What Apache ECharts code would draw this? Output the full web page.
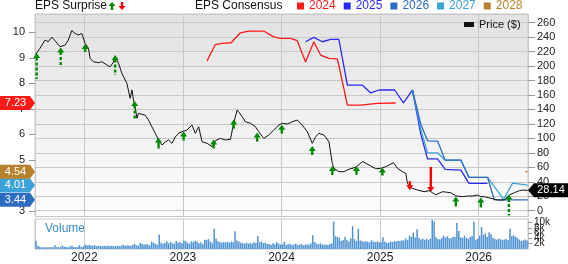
<!DOCTYPE html>
<html><head><meta charset="utf-8">
<script src="https://cdn.jsdelivr.net/npm/echarts@6/dist/echarts.min.js"></script>
<style>html,body{margin:0;padding:0;background:#fff}#c{width:568px;height:264px}</style>
</head><body><div id="c"></div>
<script>
// ---------- data ----------
const yearLabels = [2022, 2023, 2024, 2025, 2026];
const xStart = 2021.5, xEnd = 2026.5;

const priceDates = [2021.505,2021.517,2021.551,2021.602,2021.635,2021.670,2021.703,2021.754,2021.774,2021.805,2021.838,2021.873,2021.907,2021.940,2021.975,2022.008,2022.042,2022.059,2022.092,2022.143,2022.178,2022.229,2022.262,2022.293,2022.313,2022.347,2022.381,2022.432,2022.465,2022.483,2022.499,2022.516,2022.534,2022.550,2022.567,2022.618,2022.651,2022.669,2022.702,2022.720,2022.753,2022.788,2022.821,2022.855,2022.889,2022.923,2022.956,2022.991,2023.007,2023.042,2023.092,2023.126,2023.160,2023.194,2023.245,2023.296,2023.312,2023.329,2023.380,2023.431,2023.482,2023.515,2023.550,2023.566,2023.601,2023.634,2023.685,2023.736,2023.769,2023.820,2023.871,2023.922,2023.973,2024.007,2024.058,2024.109,2024.160,2024.210,2024.261,2024.312,2024.346,2024.379,2024.430,2024.481,2024.515,2024.532,2024.582,2024.633,2024.684,2024.752,2024.823,2024.904,2024.955,2025.006,2025.057,2025.135,2025.176,2025.227,2025.260,2025.277,2025.301,2025.328,2025.379,2025.446,2025.497,2025.514,2025.565,2025.633,2025.717,2025.768,2025.836,2025.887,2025.938,2025.989,2026.022,2026.056,2026.124,2026.192,2026.259,2026.310,2026.361,2026.412,2026.446,2026.497];
const priceValues = [216,217.7,224.6,236,233.7,240,235,226.8,228,229,236,249,245,243,245,231.5,224.6,210.8,206,204.7,206,201.5,199,205,213,204,190,176,155.4,167,153,143.8,127.8,134.7,137,132,125.4,123,111.6,107,97.8,90.9,95,97.8,93.2,102,107,109.3,110,111.6,118.5,107,116,95.4,93.2,88.5,92,96.8,100,97.8,98.7,120.9,139.3,141.6,130,123,120.9,116,109.3,100,104.7,111.6,118.5,120.9,119.9,123,125.4,118.5,109.3,93.2,102.3,107,104.7,95.4,65.6,58.6,54,54,57.3,60,68,62,58,58.6,60.8,66.4,58.6,54,51.7,37.9,33,31,28.6,26.3,27.7,28.6,22,26.3,24.9,20.5,19.4,20.3,20.3,21.7,19.4,19.4,17.1,14.8,14.8,21.7,24.9,27.7,28.6,28.14];

const eps2024Dates = [2023.245,2023.329,2023.397,2023.489,2023.583,2023.668,2023.820,2023.916,2023.990,2024.091,2024.160,2024.244,2024.328,2024.396,2024.481,2024.566,2024.582,2024.668,2024.803,2024.973,2025.159];
const eps2024 = [8.88,9.52,9.57,9.59,9.98,10.05,10.05,9.83,9.76,9.76,9.67,8.84,9.63,9.11,8.98,8.96,8.7,7.15,7.15,7.22,7.23];

const eps2025Dates = [2024.244,2024.328,2024.414,2024.498,2024.582,2024.668,2024.820,2024.904,2024.989,2025.148,2025.237,2025.328,2025.413,2025.481,2025.583,2025.660,2025.820,2025.901,2026.090];
const eps2025 = [9.63,9.80,9.63,9.72,9.72,7.93,7.93,7.63,7.74,7.74,7.24,7.74,6.0,5.04,5.04,4.63,4.60,4.08,4.08];

const eps2026Dates = [2025.328,2025.413,2025.481,2025.583,2025.660,2025.820,2025.901,2026.090,2026.158,2026.497];
const eps2026 = [7.74,6.4,5.75,5.74,4.99,4.99,4.32,4.32,3.44,3.44];

const eps2027Dates = [2025.328,2025.413,2025.481,2025.583,2025.660,2025.820,2025.901,2026.090,2026.253,2026.344,2026.497];
const eps2027 = [7.74,6.2,5.28,5.28,4.99,4.99,4.32,4.32,3.46,4.09,4.01];

const eps2028Dates = [2026.470,2026.497];
const eps2028 = [4.54,4.54];

// EPS surprise events: date, price at report, surprise size (%), beat(1)/miss(-1)
const surpriseDates = [2021.517,2021.761,2022.008,2022.313,2022.511,2022.753,2023.007,2023.312,2023.515,2023.753,2024.003,2024.312,2024.515,2024.760,2025.023,2025.301,2025.514,2025.768,2026.022,2026.306];
const surprisePrices = [218,225.7,230.5,215.3,151.7,101.2,109.5,98.5,126,108,119,89.5,61.8,62,59.7,28.4,25.9,19.6,18.3,22.4];
const surprisePct = [13,9.5,4,10,9.5,5.5,4.5,4.5,4.5,4.5,4.5,4.5,4.5,4.5,4,4.5,12.5,5,5,10.5];
const surpriseSign = [1,1,1,1,1,1,1,1,1,1,1,1,1,1,1,-1,-1,1,1,1];

// weekly volume (thousands)
const vol2021 = [3.0,1.2,0.8,0.7,0.6,0.7,0.6,0.7,0.8,0.7,1.4,0.8,0.7,0.8,1.3,0.9,0.8,0.7,1.0,1.2,0.8,0.7,0.8,1.5,0.8,0.9];
const vol2022 = [1.6,1.4,1.5,1.3,1.2,1.4,1.1,1.3,1.2,1.0,1.2,1.1,1.3,1.0,1.2,1.1,1.0,1.3,1.1,1.2,1.6,1.2,1.4,1.3,1.2,1.5,1.9,1.4,1.3,2.3,2.0,1.6,1.9,1.7,1.4,2.8,2.3,2.0,1.6,5.5,2.4,2.0,2.3,2.9,2.1,2.6,2.2,2.0,3.0,2.4,2.6,2.2];
const vol2023 = [3.2,2.9,2.4,2.0,2.9,2.6,3.1,2.7,2.2,2.5,1.9,3.5,3.4,3.7,2.8,2.2,7.6,4.0,2.9,2.5,2.4,2.6,2.5,2.7,2.4,2.8,2.6,6.7,3.2,2.8,2.4,2.2,2.0,2.4,2.1,2.2,2.0,2.5,2.3,4.9,2.5,2.8,2.2,2.4,1.9,2.0,1.6,2.2,1.8,2.6,2.0,1.7];
const vol2024 = [1.8,2.7,1.6,1.8,2.0,1.5,1.7,2.0,1.5,1.6,1.9,1.4,1.6,1.8,1.6,2.2,5.2,2.6,2.0,1.8,2.1,1.7,1.6,1.7,1.5,1.9,2.0,10.3,4.8,4.5,4.2,3.0,3.4,4.6,3.5,2.8,4.0,8.6,3.7,3.0,7.6,3.2,3.0,2.6,2.9,2.7,2.5,3.3,2.8,2.6,2.9,2.5];
const vol2025 = [2.6,4.4,2.8,2.3,2.4,2.8,2.6,3.0,2.8,3.1,3.0,3.3,3.2,4.0,3.4,5.0,4.5,6.2,4.3,7.4,4.1,3.6,3.9,3.4,3.8,3.3,3.9,11.0,10.3,4.4,3.8,3.6,4.2,5.0,4.3,4.8,4.1,4.0,4.6,4.5,9.8,6.8,4.4,4.1,5.0,4.2,3.8,4.5,4.9,10.3,3.5,3.9];
const vol2026 = [5.0,8.3,5.4,5.8,4.5,6.3,5.6,4.2,3.8,3.5,3.9,3.7,3.4,3.6,3.8,3.4,7.6,4.9,5.2,4.6,4.1,3.5,3.0,3.3,3.6,3.2];

const lastPrice = 28.14;

// ---------- build ----------
const zip = (a, b) => a.map((d, i) => [d, b[i]]);
const volData = [];
[[2021.5, vol2021], [2022, vol2022], [2023, vol2023], [2024, vol2024], [2025, vol2025], [2026, vol2026]].forEach(([y0, arr]) => {
  arr.forEach((v, i) => volData.push([y0 + (i + 0.5) / 52, v]));
});
const surpriseData = surpriseDates.map((d, i) => [d, surprisePrices[i], surprisePct[i], surpriseSign[i]]);

const FONT = 'Liberation Sans, Arial, sans-serif';
const C = { c2024: '#ff1a1a', c2025: '#2a2af2', c2026: '#2e6cc2', c2027: '#3ba2da', c2028: '#b7822f' };

function leftBadge(color, value) {
  return {
    silent: true,
    symbol: 'path://M0,0L30,0L35,7L30,14L0,14Z',
    symbolSize: [35, 14],
    symbolOffset: [-17.5, 0],
    itemStyle: { color },
    label: { show: true, position: 'inside', color: '#fff', fontSize: 11, fontFamily: FONT, offset: [-2, 0], formatter: () => value.toFixed(2) },
    data: [{ coord: [xStart, value] }]
  };
}

function epsSeries(name, dates, vals, color, badge) {
  return {
    name, type: 'line', xAxisIndex: 0, yAxisIndex: 0, data: zip(dates, vals),
    showSymbol: false, symbol: 'none', lineStyle: { color, width: 1.3 }, itemStyle: { color },
    animation: false, z: 3,
    markPoint: badge ? leftBadge(color, vals[vals.length - 1]) : undefined
  };
}

const chart = echarts.init(document.getElementById('c'), null, { renderer: 'canvas' });
const axisLabelStyle = { fontFamily: FONT, color: '#222' };

chart.setOption({
  animation: false,
  textStyle: { fontFamily: FONT },
  grid: [
    { left: 35, right: 40, top: 14, height: 202.5, show: true, borderColor: '#c8c8c8', borderWidth: 1,
      backgroundColor: { type: 'linear', x: 0, y: 0, x2: 0, y2: 1, colorStops: [{ offset: 0, color: '#e2e2e2' }, { offset: 1, color: '#fdfdfd' }] } },
    { left: 35, right: 40, top: 219, height: 39, show: true, borderColor: '#c8c8c8', borderWidth: 1, backgroundColor: '#ffffff' }
  ],
  legend: [
    { left: 297, top: 0, padding: 0, itemWidth: 7, itemHeight: 7, itemGap: 8, icon: 'rect',
      textStyle: { fontSize: 12, fontFamily: FONT },
      data: [
        { name: '2024', textStyle: { color: C.c2024 } },
        { name: '2025', textStyle: { color: C.c2025 } },
        { name: '2026', textStyle: { color: C.c2026 } },
        { name: '2027', textStyle: { color: C.c2027 } },
        { name: '2028', textStyle: { color: C.c2028 } }
      ], selectedMode: false },
    { left: 464, top: 19, padding: 0, itemWidth: 10, itemHeight: 5, icon: 'rect',
      textStyle: { fontSize: 11, fontFamily: FONT, color: '#111' }, data: ['Price ($)'], selectedMode: false }
  ],
  graphic: [
    { type: 'text', left: 35, top: 0, style: { text: 'EPS Surprise', fontSize: 12, fontFamily: FONT, fill: '#111' } },
    { type: 'polygon', shape: { points: [[112, 2], [108.5, 6], [115.5, 6]] }, style: { fill: '#008a00' } },
    { type: 'rect', shape: { x: 110.8, y: 6, width: 2.4, height: 4 }, style: { fill: '#008a00' } },
    { type: 'polygon', shape: { points: [[122, 10], [118.5, 6], [125.5, 6]] }, style: { fill: '#ff0000' } },
    { type: 'rect', shape: { x: 120.8, y: 2, width: 2.4, height: 4 }, style: { fill: '#ff0000' } },
    { type: 'text', left: 195, top: 0, style: { text: 'EPS Consensus', fontSize: 12, fontFamily: FONT, fill: '#111' } },
    { type: 'text', left: 45, top: 223, style: { text: 'Volume', fontSize: 12, fontFamily: FONT, fill: '#3a8bd0' } }
  ],
  xAxis: [
    { type: 'value', gridIndex: 0, min: xStart, max: xEnd, minInterval: 1, maxInterval: 1,
      axisLabel: { show: false }, axisTick: { show: false }, axisLine: { show: false },
      splitLine: { show: true, lineStyle: { color: '#c8c8c8', width: 1 } } },
    { type: 'value', gridIndex: 1, min: xStart, max: xEnd, minInterval: 1, maxInterval: 1,
      axisLabel: { show: true, fontSize: 12, margin: 3, showMinLabel: false, showMaxLabel: false, ...axisLabelStyle,
        formatter: v => (yearLabels.includes(Math.round(v)) ? String(Math.round(v)) : '') },
      axisTick: { show: false }, axisLine: { show: false },
      splitLine: { show: true, lineStyle: { color: '#c8c8c8', width: 1 } } }
  ],
  yAxis: [
    { type: 'value', gridIndex: 0, position: 'left', min: 2.785, max: 10.717, minInterval: 1, maxInterval: 1,
      axisLine: { show: true, lineStyle: { color: '#c8c8c8' } },
      axisTick: { show: true, length: 6, lineStyle: { color: '#999' } },
      axisLabel: { fontSize: 11, margin: 10, showMinLabel: false, showMaxLabel: false, hideOverlap: false, ...axisLabelStyle },
      splitLine: { show: false } },
    { type: 'value', gridIndex: 0, position: 'right', min: -8, max: 272, minInterval: 20, maxInterval: 20,
      axisLine: { show: false },
      axisTick: { show: true, length: 7, lineStyle: { color: '#999' } },
      axisLabel: { fontSize: 11, margin: 9, showMinLabel: false, showMaxLabel: false, hideOverlap: false, ...axisLabelStyle },
      splitLine: { show: true, lineStyle: { color: '#c8c8c8', width: 1 } } },
    { type: 'value', gridIndex: 1, position: 'right', min: 0, max: 11.3, minInterval: 2, maxInterval: 2,
      axisLine: { show: false },
      axisTick: { show: true, length: 4, lineStyle: { color: '#999' } },
      axisLabel: { fontSize: 10, margin: 6, showMaxLabel: false, hideOverlap: false, ...axisLabelStyle, formatter: v => (v === 0 ? '0' : v + 'k') },
      splitLine: { show: false } }
  ],
  series: [
    epsSeries('2024', eps2024Dates, eps2024, C.c2024, true),
    epsSeries('2025', eps2025Dates, eps2025, C.c2025, false),
    epsSeries('2027', eps2027Dates, eps2027, C.c2027, true),
    epsSeries('2026', eps2026Dates, eps2026, C.c2026, true),
    epsSeries('2028', eps2028Dates, eps2028, C.c2028, true),
    { name: 'Price ($)', type: 'line', xAxisIndex: 0, yAxisIndex: 1, data: zip(priceDates, priceValues),
      showSymbol: false, symbol: 'none', lineStyle: { color: '#111', width: 1 }, itemStyle: { color: '#111' }, z: 4,
      markPoint: {
        silent: true, symbol: 'path://M6,0L40,0L40,14L6,14L0,7Z', symbolSize: [40, 14], symbolOffset: [20, 0],
        itemStyle: { color: '#000' },
        label: { show: true, position: 'inside', color: '#fff', fontSize: 11, fontFamily: FONT, offset: [3, 0], formatter: () => lastPrice.toFixed(2) },
        data: [{ coord: [xEnd, lastPrice] }]
      } },
    { name: 'Surprise', type: 'custom', xAxisIndex: 0, yAxisIndex: 1, data: surpriseData, z: 5,
      renderItem: (params, api) => {
        const p = api.coord([api.value(0), api.value(1)]);
        const len = 2 * api.value(2);
        const up = api.value(3) > 0;
        const color = up ? '#008a00' : '#ff0000';
        const hw = 3.5, hh = 5;
        const s = up ? 1 : -1;
        return { type: 'group', children: [
          { type: 'polygon', shape: { points: [[p[0], p[1]], [p[0] - hw, p[1] + s * hh], [p[0] + hw, p[1] + s * hh]] }, style: { fill: color } },
          { type: 'line', shape: { x1: p[0], y1: p[1] + s * (hh - 0.5), x2: p[0], y2: p[1] + s * len },
            style: { stroke: color, lineWidth: 2.4, lineDash: (up && len > 12) ? [3, 2] : null } }
        ] };
      } },
    { name: 'Volume', type: 'bar', xAxisIndex: 1, yAxisIndex: 2, data: volData, barWidth: 1.5,
      itemStyle: { color: '#4f93d2' }, large: false }
  ]
});
</script></body></html>
